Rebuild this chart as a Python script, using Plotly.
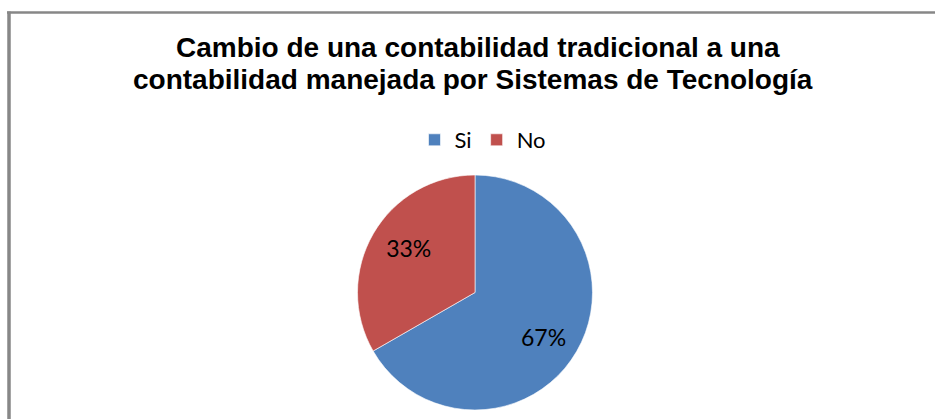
import plotly.graph_objects as go

W, H = 935, 419

labels = ["Si", "No"]
values = [66.7, 33.3]
colors = ["#4F81BD", "#C0504D"]
title_lines = [
    "Cambio de una contabilidad tradicional a una",
    "contabilidad manejada por Sistemas de Tecnología",
]

NB = "\u00a0"
# per-slice label templates (padding nudges label inside its slice)
label_templates = [
    NB + "<br>" + NB * 6 + "%{percent:.0%}",
    "%{percent:.0%}" + NB * 4 + "<br><span style='font-size:4px'>" + NB + "</span>",
]

def px_x(x):
    return x / W

def px_y(y):
    return 1 - y / H

cx, cy, r = 475, 292.5, 117.5

fig = go.Figure(
    go.Pie(
        labels=labels,
        values=values,
        sort=False,
        direction="clockwise",
        rotation=0,
        marker=dict(colors=colors, line=dict(color="#FFFFFF", width=0.6)),
        texttemplate=label_templates,
        textposition="inside",
        insidetextorientation="horizontal",
        textfont=dict(family="Lato", size=23, color="#000000"),
        domain=dict(x=[px_x(cx - r), px_x(cx + r)], y=[px_y(cy + r), px_y(cy - r)]),
        hoverinfo="label+percent",
    )
)

annotations = []
for line, xc, ymid in zip(title_lines, [478, 473], [47, 80]):
    annotations.append(
        dict(
            text="<b>%s</b>" % line,
            x=px_x(xc),
            y=px_y(ymid),
            xref="paper",
            yref="paper",
            xanchor="center",
            yanchor="middle",
            showarrow=False,
            font=dict(family="Liberation Sans", size=28, color="#000000"),
        )
    )

shapes = [
    dict(type="line", xref="paper", yref="paper",
         x0=px_x(7), x1=px_x(935), y0=px_y(12.5), y1=px_y(12.5),
         line=dict(color="#878787", width=2.5)),
    dict(type="line", xref="paper", yref="paper",
         x0=px_x(9), x1=px_x(9), y0=px_y(11.5), y1=px_y(419),
         line=dict(color="#878787", width=3.5)),
]

fig.update_layout(
    width=W,
    height=H,
    margin=dict(l=0, r=0, t=0, b=0),
    paper_bgcolor="#FFFFFF",
    plot_bgcolor="#FFFFFF",
    annotations=annotations,
    shapes=shapes,
    showlegend=True,
    legend=dict(
        orientation="h",
        x=px_x(483),
        y=px_y(140),
        xanchor="center",
        yanchor="middle",
        font=dict(family="Lato", size=22, color="#000000"),
        traceorder="normal",
    ),
)

fig.write_html(
    "out.html",
    config={"displayModeBar": False},
    post_script="document.body.style.margin='0';document.body.style.overflow='hidden';",
)
